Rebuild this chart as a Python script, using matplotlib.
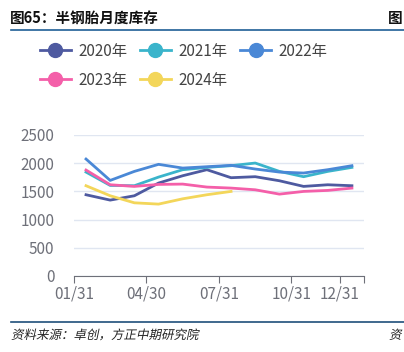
import matplotlib
matplotlib.use("Agg")
import matplotlib.pyplot as plt
from matplotlib.lines import Line2D
from matplotlib.textpath import TextPath
from matplotlib.patches import PathPatch
from matplotlib.font_manager import FontProperties
from matplotlib.transforms import Affine2D

plt.rcParams['font.family'] = ['Noto Sans CJK SC', 'DejaVu Sans']

# monthly semi-steel tire inventory
years = ['2020年', '2021年', '2022年', '2023年', '2024年']
inv_2020 = [1440, 1345, 1422, 1647, 1777, 1884, 1742, 1760, 1688, 1588, 1617, 1600]
inv_2021 = [1842, 1605, 1600, 1753, 1884, 1925, 1955, 2002, 1854, 1760, 1854, 1925]
inv_2022 = [2073, 1694, 1854, 1979, 1913, 1937, 1961, 1896, 1842, 1825, 1884, 1955]
inv_2023 = [1878, 1617, 1588, 1623, 1629, 1576, 1558, 1528, 1451, 1499, 1517, 1558]
inv_2024 = [1600, 1422, 1297, 1274, 1368, 1440, 1499]
series = [inv_2020, inv_2021, inv_2022, inv_2023, inv_2024]
colors = ['#4e5aa0', '#3ab4cb', '#4a88d6', '#f45fa9', '#f3d65a']

tick_labels = ['01/31', '04/30', '07/31', '10/31', '12/31']
tick_pos = [-0.5, 2.5, 5.5, 8.5, 10.5]
y_ticks = [0, 500, 1000, 1500, 2000, 2500]

fig = plt.figure(figsize=(4.04, 3.52), dpi=100)
ax = fig.add_axes([0.183, 0.216, 0.718, 0.4006])

for vals, c in zip(series, colors):
    ax.plot(range(len(vals)), vals, color=c, lw=2, solid_joinstyle='round')

ax.set_xlim(-0.5, 11.5)
ax.set_ylim(0, 2500)
ax.set_yticks(y_ticks)
ax.grid(axis='y', color='#e0e6f1', lw=1)
ax.set_axisbelow(True)
ax.set_xticks(tick_pos + [11.5])
ax.set_xticklabels(tick_labels + [''])
for s in ['top', 'right', 'left']:
    ax.spines[s].set_visible(False)
ax.spines['bottom'].set_color('#6e7079')
ax.tick_params(axis='y', length=0, labelsize=11, labelcolor='#6e7079', pad=14)
ax.tick_params(axis='x', length=5, color='#6e7079', labelsize=11,
               labelcolor='#6e7079', pad=2)

# legend filled column-wise, so reorder to get rows 2020-2022 / 2023-2024
handles = [Line2D([], [], color=c, lw=2, marker='o', markersize=10) for c in colors]
order = [0, 3, 1, 4, 2]
fig.legend([handles[i] for i in order], [years[i] for i in order],
           loc='upper left', bbox_to_anchor=(0.065, 0.918),
           ncol=3, frameon=False, fontsize=11, handlelength=2.0,
           columnspacing=0.85, handletextpad=0.5, labelspacing=0.8,
           labelcolor='#444444')

# title and frame lines
fig.text(0.025, 0.948, '图65：半钢胎月度库存', fontsize=10.5, fontweight='bold',
         va='center', ha='left', color='#111111')
fig.text(0.96, 0.948, '图', fontsize=10.5, fontweight='bold',
         va='center', ha='left', color='#111111')
fig.add_artist(Line2D([0.027, 1.0], [0.915, 0.915], color='#1f5f96', lw=1.2))
fig.add_artist(Line2D([0.027, 1.0], [0.085, 0.085], color='#1f4f7a', lw=1.2))


# the CJK font has no italic, so slant the glyph outlines by hand
def slanted_text(x_px, y_px, s, size):
    tp = TextPath((0, 0), s, size=size * 100 / 72, prop=FontProperties(family='Noto Sans CJK SC'))
    tr = Affine2D().skew_deg(12, 0).translate(x_px, y_px)
    fig.add_artist(PathPatch(tr.transform_path(tp), transform=None,
                             facecolor='#222222', edgecolor='none'))


slanted_text(11, 13, '资料来源：卓创，方正中期研究院', 9)
slanted_text(389, 13, '资', 9)

fig.savefig('out.png', dpi=100)
